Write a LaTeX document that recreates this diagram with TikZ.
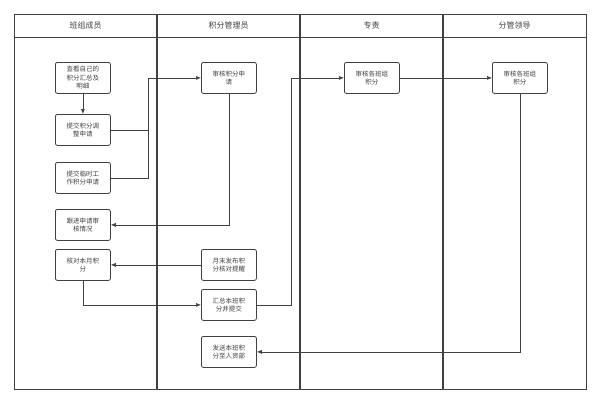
\documentclass[tikz,border=0pt]{standalone}
\usepackage{fontspec}
\setmainfont{Noto Sans CJK SC}
\usetikzlibrary{arrows.meta}
\definecolor{ln}{HTML}{404040}
\begin{document}
\begin{tikzpicture}[x=1pt,y=-1pt,
  box/.style={draw=ln,line width=0.8pt,rounded corners=2pt,minimum width=55pt,minimum height=31pt,align=center,font=\fontsize{6.5}{8.5}\selectfont,text=ln,anchor=north west,inner sep=1pt},
  hd/.style={font=\fontsize{8}{10}\selectfont,text=ln},
  arr/.style={draw=ln,line width=0.6pt,-{Latex[length=5pt,width=4pt]}}]
\useasboundingbox (0,0) rectangle (601,404);
\draw[ln,line width=0.8pt] (14,14) rectangle (586,389);
\draw[ln,line width=0.6pt] (14,37) -- (586,37);
\foreach \x in {157,300,443} \draw[ln,line width=1.2pt] (\x,14) -- (\x,389);
\node[hd] (h1) at (85.5,25.5) {班组成员};
\node[hd] (h2) at (228.5,25.5) {积分管理员};
\node[hd] (h3) at (371.5,25.5) {专责};
\node[hd] (h4) at (514.5,25.5) {分管领导};
\node[box] (A) at (55,62) {查看自己的\\积分汇总及\\明细};
\node[box] (B) at (55,114) {提交积分调\\整申请};
\node[box] (C) at (55,162) {提交临时工\\作积分申请};
\node[box] (D) at (55,209) {跟进申请审\\核情况};
\node[box] (E) at (55,249) {核对本月积\\分};
\node[box] (F) at (201,62) {审核积分申\\请};
\node[box] (G) at (201,249) {月末发布积\\分核对提醒};
\node[box] (H) at (201,289) {汇总本班积\\分并提交};
\node[box] (I) at (201,336) {发送本班积\\分至人资部};
\node[box] (J) at (344,62) {审核各班组\\积分};
\node[box] (K) at (492,62) {审核各班组\\积分};
\coordinate (m1) at (148,0);
\coordinate (m2) at (291,0);
\draw[arr] (A) -- (B);
\draw[arr] (B.east) -| (m1 |- F.west) -- (F.west);
\draw[ln,line width=0.6pt] (C.east) -| (m1 |- B.east);
\draw[arr] (F.south) |- (D.east);
\draw[arr] (G.west) -- (E.east);
\draw[arr] (E.south) |- (H.west);
\draw[arr] (H.east) -| (m2 |- J.west) -- (J.west);
\draw[arr] (J) -- (K);
\draw[arr] (K.south) |- (I.east);
\end{tikzpicture}
\end{document}
